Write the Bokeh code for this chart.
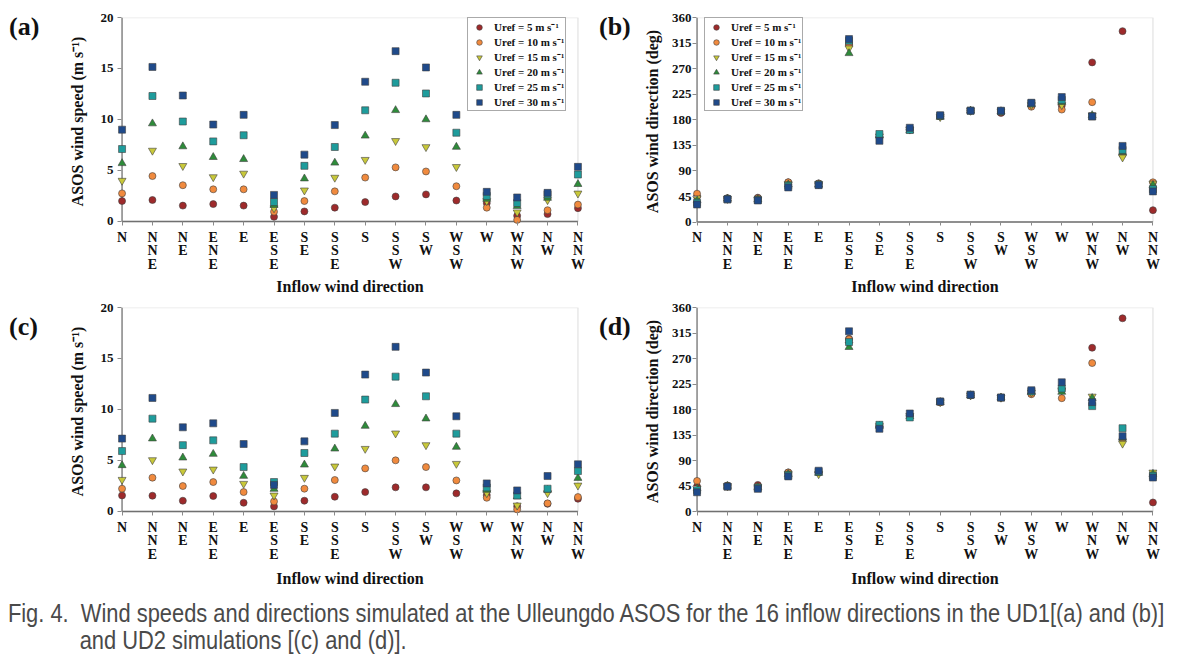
from bokeh.plotting import figure
from bokeh.models import FixedTicker, BoxAnnotation, Legend, LegendItem, Div
from bokeh.layouts import column, row
from bokeh.embed import file_html
from bokeh.resources import INLINE

# ---------------- data ----------------
categories = ["N", "NNE", "NE", "ENE", "E", "ESE", "SE", "SSE",
              "S", "SSW", "SW", "WSW", "W", "WNW", "NW", "NNW"]
series_labels = ["Uref = 5 m s\u207b\u00b9", "Uref = 10 m s\u207b\u00b9", "Uref = 15 m s\u207b\u00b9",
                 "Uref = 20 m s\u207b\u00b9", "Uref = 25 m s\u207b\u00b9", "Uref = 30 m s\u207b\u00b9"]
speed_ticks = [0, 5, 10, 15, 20]
dir_ticks = [0, 45, 90, 135, 180, 225, 270, 315, 360]

# (a) UD1 wind speed
a_u5 = [2.0, 2.1, 1.55, 1.7, 1.55, 0.45, 0.98, 1.35, 1.9, 2.45, 2.65, 2.05, 1.8, 0.55, 0.72, 1.3]
a_u10 = [2.75, 4.45, 3.55, 3.15, 3.15, 0.95, 2.0, 2.95, 4.3, 5.3, 4.9, 3.45, 1.35, 0.15, 1.1, 1.65]
a_u15 = [4.0, 6.95, 5.45, 4.35, 4.7, 1.3, 3.05, 4.3, 6.05, 7.9, 7.3, 5.35, 2.0, 0.9, 2.1, 2.75]
a_u20 = [5.7, 9.6, 7.35, 6.3, 6.1, 1.6, 4.2, 5.75, 8.4, 10.9, 10.0, 7.3, 2.2, 1.5, 2.3, 3.65]
a_u25 = [7.1, 12.3, 9.8, 7.85, 8.45, 1.9, 5.45, 7.3, 10.9, 13.6, 12.55, 8.7, 2.5, 1.8, 2.65, 4.6]
a_u30 = [9.0, 15.15, 12.35, 9.5, 10.45, 2.6, 6.55, 9.45, 13.7, 16.7, 15.1, 10.45, 2.9, 2.35, 2.8, 5.35]

# (b) UD1 wind direction
b_u5 = [45, 42, 43, 70, 68, 312, 150, 163, 186, 196, 192, 205, 205, 281, 336, 21]
b_u10 = [50, 42, 42, 70, 68, 313, 150, 163, 186, 196, 194, 203, 198, 211, 119, 70]
b_u15 = [42, 41, 40, 67, 67, 306, 151, 163, 185, 196, 195, 206, 206, 188, 114, 68]
b_u20 = [38, 41, 40, 66, 66, 297, 152, 161, 185, 196, 195, 207, 211, 188, 123, 65]
b_u25 = [34, 40, 39, 64, 66, 319, 155, 162, 187, 196, 195, 209, 215, 186, 127, 58]
b_u30 = [31, 40, 38, 61, 65, 322, 143, 166, 188, 196, 196, 210, 220, 186, 134, 54]

# (c) UD2 wind speed
c_u5 = [1.57, 1.54, 1.05, 1.51, 0.85, 0.49, 1.05, 1.44, 1.9, 2.36, 2.36, 1.77, 1.6, 0.5, 0.75, 1.24]
c_u10 = [2.23, 3.31, 2.49, 2.88, 1.9, 0.98, 2.23, 3.08, 4.22, 5.01, 4.35, 3.04, 1.34, 0.2, 0.79, 1.41]
c_u15 = [3.11, 5.04, 3.93, 4.12, 2.72, 1.57, 3.31, 4.42, 6.15, 7.66, 6.51, 4.68, 1.8, 0.59, 1.8, 2.55]
c_u20 = [4.52, 7.14, 5.27, 5.63, 3.47, 2.2, 4.58, 6.15, 8.38, 10.51, 9.1, 6.32, 2.1, 1.45, 2.1, 3.27]
c_u25 = [5.92, 9.1, 6.5, 6.97, 4.35, 2.88, 5.73, 7.63, 10.97, 13.22, 11.29, 7.63, 2.35, 1.57, 2.23, 3.96]
c_u30 = [7.14, 11.13, 8.25, 8.64, 6.61, 2.6, 6.87, 9.66, 13.42, 16.14, 13.62, 9.33, 2.75, 2.06, 3.47, 4.62]

# (d) UD2 wind direction
d_u5 = [44, 46, 47, 69, 70, 305, 150, 170, 193, 205, 201, 208, 215, 289, 341, 16]
d_u10 = [54, 45, 44, 69, 69, 304, 150, 169, 193, 205, 201, 207, 200, 262, 128, 67]
d_u15 = [41, 45, 43, 67, 66, 295, 151, 169, 193, 205, 201, 210, 214, 203, 120, 69]
d_u20 = [41, 45, 43, 66, 68, 290, 151, 168, 193, 205, 201, 211, 211, 200, 130, 66]
d_u25 = [38, 44, 42, 64, 70, 299, 153, 166, 194, 206, 201, 212, 217, 186, 147, 63]
d_u30 = [34, 44, 40, 62, 72, 318, 146, 173, 194, 206, 201, 214, 228, 193, 133, 60]

# ---------------- styles ----------------
COLORS = ["#9e2a2b", "#f08a3e", "#c8c83a", "#2e8b3a", "#1e9c9c", "#1f4a8a"]
MARKERS = ["circle", "circle", "inverted_triangle", "triangle", "square", "square"]
SIZES = [7, 7, 8, 8, 7, 7]
SERIF = "Liberation Serif"
XPAD = 0.15


def make_panel(series, yticks, ypad, ylabel, width, height,
               mbl, mbr, mbt, mbb, tick_standoff, label_standoff,
               xtick_len=4, line_h=0.93, xlabel_standoff=5, legend_loc=None):
    n = len(categories)
    xs = list(range(n))
    ytop = yticks[-1]
    p = figure(width=width, height=height, x_range=(-XPAD, n - 1 + XPAD),
               y_range=(-ypad, ytop), output_backend="svg",
               toolbar_location=None, min_border_left=mbl, min_border_right=mbr,
               min_border_top=mbt, min_border_bottom=mbb, margin=0)
    p.xgrid.visible = False
    p.ygrid.visible = False
    p.outline_line_color = None
    p.background_fill_color = "white"
    p.border_fill_color = "white"

    # plot-area box (top/right light, left/bottom darker axis lines)
    p.add_layout(BoxAnnotation(left=0, right=n - 1, bottom=0, top=ytop,
                               fill_color=None, line_color="#b0b0b0",
                               line_width=1.5, level="underlay"))
    p.segment(x0=[0, 0], y0=[0, 0], x1=[0, n - 1], y1=[ytop, 0],
              line_color=["#8a8a8a", "#707070"], line_width=1.5)

    renderers = []
    for vals, col, mk, sz in zip(series, COLORS, MARKERS, SIZES):
        r = p.scatter(x=xs, y=vals, marker=mk, size=sz, fill_color=col,
                      line_color="#404040", line_width=0.6)
        renderers.append(r)

    xa = p.xaxis[0]
    xa.ticker = FixedTicker(ticks=xs)
    xa.major_label_overrides = {i: "\n".join(c) for i, c in enumerate(categories)}
    xa.major_label_text_font = SERIF
    xa.major_label_text_font_style = "bold"
    xa.major_label_text_font_size = "14px"
    xa.major_label_text_line_height = line_h
    xa.major_label_text_color = "#111111"
    xa.major_label_standoff = 4
    xa.major_tick_out = 0
    xa.major_tick_in = xtick_len
    xa.minor_tick_out = 0
    xa.minor_tick_in = 0
    xa.axis_line_color = None
    xa.major_tick_line_color = "#8a8a8a"
    xa.axis_label = "Inflow wind direction"
    xa.axis_label_text_font = SERIF
    xa.axis_label_text_font_style = "bold"
    xa.axis_label_text_font_size = "16px"
    xa.axis_label_text_color = "#111111"
    xa.axis_label_standoff = xlabel_standoff

    ya = p.yaxis[0]
    ya.ticker = FixedTicker(ticks=yticks)
    ya.major_label_text_font = SERIF
    ya.major_label_text_font_style = "bold"
    ya.major_label_text_font_size = "13px"
    ya.major_label_text_color = "#111111"
    ya.major_label_standoff = tick_standoff
    ya.major_tick_out = 0
    ya.major_tick_in = 4
    ya.minor_tick_out = 0
    ya.minor_tick_in = 0
    ya.axis_line_color = None
    ya.major_tick_line_color = "#8a8a8a"
    ya.axis_label = ylabel
    ya.axis_label_text_font = SERIF
    ya.axis_label_text_font_style = "bold"
    ya.axis_label_text_font_size = "16px"
    ya.axis_label_text_color = "#111111"
    ya.axis_label_standoff = label_standoff

    if legend_loc is not None:
        items = [LegendItem(label=lab, renderers=[r]) for lab, r in zip(series_labels, renderers)]
        leg = Legend(items=items, location=legend_loc)
        leg.label_text_font = SERIF
        leg.label_text_font_style = "bold"
        leg.label_text_font_size = "11px"
        leg.label_text_color = "#111111"
        leg.glyph_width = 20
        leg.glyph_height = 14
        leg.label_height = 14
        leg.label_standoff = 5
        leg.spacing = 0
        leg.padding = 1
        leg.margin = 0
        leg.border_line_color = "#555555"
        leg.border_line_width = 1
        leg.background_fill_color = "white"
        leg.background_fill_alpha = 1
        p.add_layout(leg, "center")
    return p


def letter_div(letter, width, height):
    return Div(text=('<div style="font-family:\'Liberation Serif\',serif;font-weight:bold;'
                     'font-size:26px;line-height:26px;color:#111111;padding:14px 0 0 9px;">'
                     '(%s)</div>' % letter), width=width, height=height, margin=0)


pa = make_panel([a_u5, a_u10, a_u15, a_u20, a_u25, a_u30], speed_ticks, 0.4,
                "ASOS wind speed (m s\u207b\u00b9)", 542, 300,
                69, 8, 17, 75, 4, 12, line_h=0.9, xlabel_standoff=3,
                legend_loc=(350, 114))
pb = make_panel([b_u5, b_u10, b_u15, b_u20, b_u25, b_u30], dir_ticks, 6,
                "ASOS wind direction (deg)", 543, 300,
                52, 26, 17, 74, 1, 8, xtick_len=3, line_h=0.9, xlabel_standoff=3,
                legend_loc=(12, 114))
pc = make_panel([c_u5, c_u10, c_u15, c_u20, c_u25, c_u30], speed_ticks, 0.4,
                "ASOS wind speed (m s\u207b\u00b9)", 542, 292,
                69, 8, 7, 77, 4, 12)
pd_ = make_panel([d_u5, d_u10, d_u15, d_u20, d_u25, d_u30], dir_ticks, 7,
                 "ASOS wind direction (deg)", 543, 292,
                 52, 26, 7, 76, 1, 8)

caption = Div(text=(
    '<div style="font-family:\'Liberation Sans\',Arial,sans-serif;'
    'font-size:25px;color:#4a4a4a;line-height:27px;margin-top:8px;padding-left:91px;'
    'text-indent:-82px;white-space:nowrap;transform:scaleX(0.875);transform-origin:0 0;">'
    'Fig. 4.&nbsp; Wind speeds and directions simulated at the Ulleungdo ASOS for the 16 inflow '
    'directions in the UD1[(a) and (b)]<br>and UD2 simulations [(c) and (d)].</div>'),
    width=1183, height=62, margin=0)

layout = column(
    row(letter_div("a", 48, 40), pa, letter_div("b", 50, 40), pb),
    row(letter_div("c", 48, 40), pc, letter_div("d", 50, 40), pd_),
    caption)
open("out.html", "w").write(file_html(layout, INLINE))
